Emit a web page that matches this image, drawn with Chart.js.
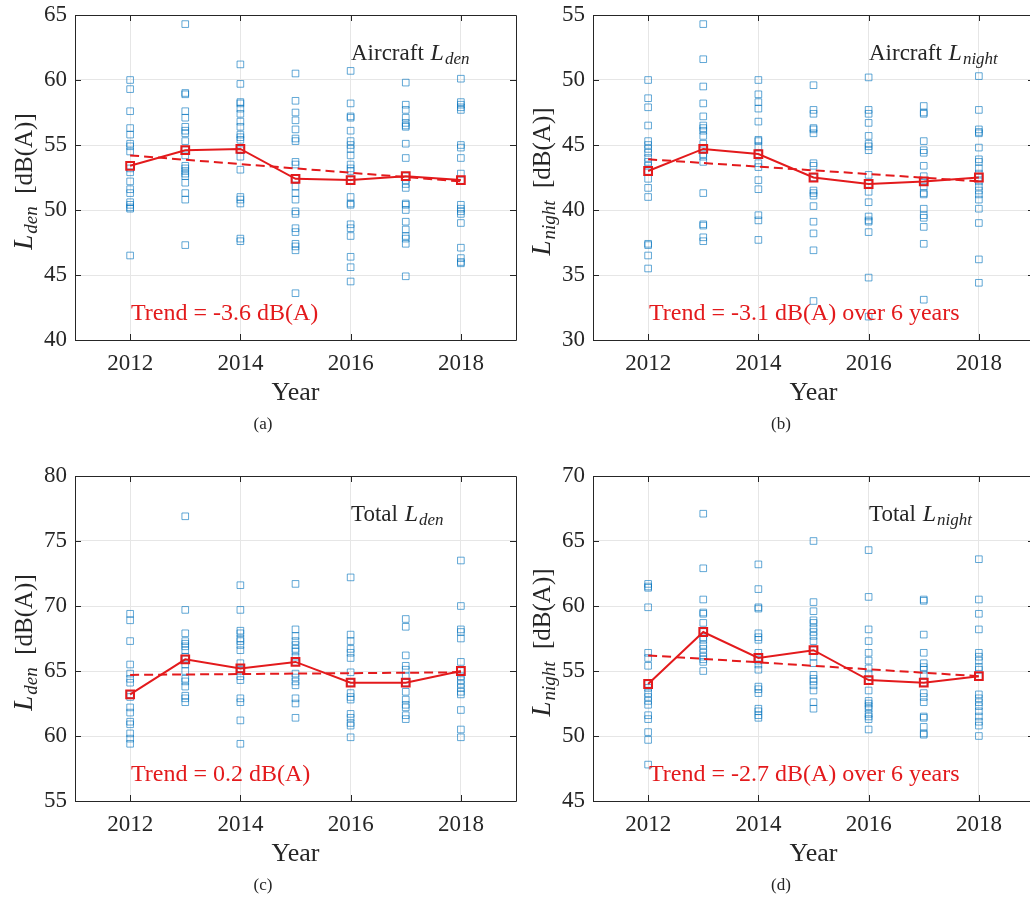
<!DOCTYPE html>
<html>
<head>
<meta charset="utf-8">
<title>Noise level trends 2012-2018</title>
<script src="https://cdn.jsdelivr.net/npm/chart.js@4.4.0/dist/chart.umd.min.js"></script>
<style>
  html, body { margin: 0; padding: 0; background: #fff; overflow: hidden; }
  #figure { position: relative; width: 1030px; height: 898px; }
  #figure canvas { position: absolute; }
</style>
</head>
<body>
<div id="figure">
  <canvas id="panel-a" width="530" height="455" style="left:0;top:0"></canvas>
  <canvas id="panel-b" width="530" height="455" style="left:518px;top:0"></canvas>
  <canvas id="panel-c" width="530" height="455" style="left:0;top:461px"></canvas>
  <canvas id="panel-d" width="530" height="455" style="left:518px;top:461px"></canvas>
</div>
<script>
// Survey years and x-axis ticks
const years = [2012, 2013, 2014, 2015, 2016, 2017, 2018];
const yearTicks = [2012, 2014, 2016, 2018];

// Aircraft Lden: per-site values for each year, yearly mean, linear trend endpoints
const aircraftDenSamples = [
    [60.0, 59.3, 57.6, 56.3, 55.8, 55.1, 54.9, 54.5, 53.2, 52.9, 52.2, 51.6, 51.3, 50.6, 50.4, 50.2, 50.1, 46.5],
    [64.3, 59.0, 58.9, 57.6, 57.1, 56.4, 56.1, 55.9, 55.3, 54.6, 54.2, 53.4, 53.2, 53.0, 52.8, 52.6, 52.1, 51.3, 50.8, 47.3],
    [61.2, 59.7, 58.3, 58.2, 57.8, 57.4, 56.8, 56.4, 55.8, 55.6, 55.4, 54.6, 54.1, 53.1, 51.0, 50.8, 50.5, 47.8, 47.6],
    [60.5, 58.4, 57.5, 56.9, 56.2, 55.5, 55.3, 53.7, 53.5, 52.4, 51.8, 51.3, 50.8, 49.9, 49.7, 48.6, 48.3, 47.4, 47.2, 46.9, 43.6],
    [60.7, 58.2, 57.2, 57.1, 56.1, 55.3, 55.0, 54.7, 54.2, 53.5, 53.2, 53.0, 52.3, 51.0, 50.5, 50.4, 48.9, 48.6, 48.0, 46.4, 45.6, 44.5],
    [59.8, 58.1, 57.7, 57.1, 56.7, 56.5, 56.4, 55.1, 54.0, 52.6, 52.3, 52.0, 51.7, 50.5, 50.4, 50.0, 49.1, 48.5, 48.0, 47.8, 47.4, 44.9],
    [60.1, 58.3, 58.1, 57.9, 57.7, 55.0, 54.8, 54.0, 52.8, 52.3, 50.4, 50.1, 49.9, 49.7, 49.0, 47.1, 46.3, 46.0, 45.9]
];
const aircraftDenMeans = [53.4, 54.6, 54.7, 52.4, 52.3, 52.6, 52.3];
const aircraftDenTrend = [54.2, 52.2];

// Aircraft Lnight
const aircraftNightSamples = [
    [50.0, 48.6, 47.9, 46.5, 45.3, 45.0, 44.7, 44.4, 44.0, 43.7, 43.4, 43.0, 42.4, 41.7, 41.0, 37.4, 37.3, 36.5, 35.5],
    [54.3, 51.6, 49.5, 48.2, 47.2, 46.5, 46.3, 46.1, 45.7, 45.1, 44.7, 44.3, 44.1, 43.7, 41.3, 38.9, 38.8, 37.9, 37.6],
    [50.0, 48.9, 48.3, 47.8, 46.8, 45.4, 45.3, 44.9, 44.3, 43.6, 43.3, 42.3, 41.6, 39.6, 39.2, 37.7],
    [49.6, 47.7, 47.4, 46.3, 46.2, 45.9, 43.6, 43.4, 42.5, 41.5, 41.3, 41.1, 40.3, 39.1, 38.2, 36.9, 33.0],
    [50.2, 47.7, 47.4, 46.7, 45.7, 45.1, 44.9, 44.6, 42.7, 42.0, 41.4, 40.6, 39.5, 39.2, 39.1, 38.3, 34.8, 31.8],
    [48.0, 47.5, 47.4, 45.3, 44.6, 44.4, 43.4, 42.6, 42.2, 41.8, 41.3, 41.2, 40.1, 39.6, 39.4, 38.7, 37.4, 33.1],
    [50.3, 47.7, 46.2, 46.0, 45.9, 44.8, 43.9, 43.7, 43.2, 42.8, 42.5, 42.2, 41.8, 41.5, 41.2, 40.8, 40.1, 39.0, 36.2, 34.4]
];
const aircraftNightMeans = [43.0, 44.7, 44.3, 42.5, 42.0, 42.2, 42.5];
const aircraftNightTrend = [43.9, 42.2];

// Total Lden
const totalDenSamples = [
    [69.4, 68.9, 67.3, 65.5, 64.8, 64.4, 64.1, 63.2, 63.0, 62.2, 61.8, 61.1, 60.9, 60.2, 59.8, 59.4],
    [76.9, 69.7, 67.9, 67.3, 67.1, 66.9, 66.6, 66.1, 65.9, 65.5, 65.0, 64.4, 64.2, 63.8, 63.1, 62.9, 62.6],
    [71.6, 69.7, 68.1, 67.9, 67.5, 67.3, 67.0, 66.6, 65.6, 65.2, 65.0, 64.6, 64.3, 62.9, 62.6, 61.2, 59.4],
    [71.7, 68.2, 67.7, 67.3, 67.0, 66.7, 66.5, 66.1, 65.7, 64.8, 64.5, 64.2, 63.9, 62.9, 62.5, 61.4],
    [72.2, 67.8, 67.3, 66.7, 66.4, 66.0, 64.9, 64.1, 63.3, 63.0, 62.8, 61.7, 61.4, 61.0, 60.8, 59.9],
    [69.0, 68.4, 66.2, 65.4, 65.1, 64.6, 64.1, 63.4, 62.8, 62.4, 62.2, 61.6, 61.3],
    [73.5, 70.0, 68.2, 68.0, 67.5, 65.7, 65.0, 64.6, 64.3, 64.0, 63.7, 63.4, 63.2, 62.0, 60.5, 59.9]
];
const totalDenMeans = [63.2, 65.9, 65.2, 65.7, 64.1, 64.1, 65.0];
const totalDenTrend = [64.7, 64.9];

// Total Lnight
const totalNightSamples = [
    [61.7, 61.5, 61.4, 59.9, 56.4, 56.0, 55.4, 54.0, 53.7, 53.3, 53.0, 52.7, 52.4, 51.6, 51.3, 50.3, 49.7, 47.8],
    [67.1, 62.9, 60.5, 59.5, 59.4, 58.7, 58.0, 57.6, 57.4, 57.0, 56.7, 56.4, 56.1, 55.9, 55.7, 55.0],
    [63.2, 61.3, 59.9, 59.8, 57.9, 57.6, 57.4, 56.4, 56.0, 55.8, 55.5, 55.1, 53.8, 53.6, 53.3, 52.1, 51.9, 51.6, 51.4],
    [65.0, 60.3, 59.6, 58.9, 58.7, 58.3, 58.0, 57.7, 57.3, 56.6, 56.1, 55.6, 54.7, 54.4, 54.2, 53.9, 53.5, 52.6, 52.1],
    [64.3, 60.7, 58.2, 57.3, 56.4, 55.8, 55.2, 54.8, 54.3, 53.5, 52.7, 52.5, 52.3, 52.1, 51.7, 51.5, 51.3, 50.5],
    [60.5, 60.4, 57.8, 56.4, 55.6, 55.3, 55.1, 54.7, 54.1, 53.3, 53.0, 52.6, 51.5, 51.4, 50.7, 50.2, 50.1],
    [63.6, 60.5, 59.4, 58.2, 56.4, 56.1, 55.8, 55.3, 55.1, 54.6, 53.2, 52.9, 52.6, 52.3, 51.9, 51.5, 51.1, 50.8, 50.0]
];
const totalNightMeans = [54.0, 58.0, 56.0, 56.6, 54.3, 54.1, 54.6];
const totalNightTrend = [56.2, 54.6];

// Y ranges (min, max) of the four panels
const rangeA = [40, 65];
const rangeB = [30, 55];
const rangeC = [55, 80];
const rangeD = [45, 70];

// Annotation texts
const trendLabels = ['Trend = -3.6 dB(A)', 'Trend = -3.1 dB(A) over 6 years',
                     'Trend = 0.2 dB(A)', 'Trend = -2.7 dB(A) over 6 years'];
const panelTitles = ['Aircraft', 'Aircraft', 'Total', 'Total'];
const metricSubs = ['den', 'night', 'den', 'night'];
const captions = ['(a)', '(b)', '(c)', '(d)'];

// Geometry shared by every panel canvas
const CANVAS_W = 530, CANVAS_H = 455;
const PLOT_LEFT = 75, PLOT_TOP = 15, PLOT_RIGHT = 516, PLOT_BOTTOM = 340;

const SERIF = '"Liberation Serif", "Times New Roman", serif';
const INK = '#262626';
const RED = '#e31a1c';
const BLUE = 'rgba(0, 114, 189, 0.62)';

// Draw a sequence of text pieces (normal / italic / subscript) starting at x
function drawRuns(ctx, runs, x, y, align) {
    let total = 0;
    runs.forEach(r => { ctx.font = r.font; r.w = ctx.measureText(r.text).width + (r.gap || 0); total += r.w; });
    let cx = align === 'center' ? x - total / 2 : x;
    ctx.textAlign = 'left';
    ctx.textBaseline = 'alphabetic';
    runs.forEach(r => {
        ctx.font = r.font;
        ctx.fillText(r.text, cx, y + (r.dy || 0));
        cx += r.w;
    });
}

// Axis box with inward ticks, axis titles and text annotations
const panelDecor = {
    id: 'panelDecor',
    afterDraw(chart, args, opts) {
        const ctx = chart.ctx;
        const a = chart.chartArea;
        const xs = chart.scales.x, ys = chart.scales.y;
        ctx.save();

        ctx.strokeStyle = INK;
        ctx.lineWidth = 1;
        ctx.beginPath();
        ctx.rect(Math.round(a.left) + 0.5, Math.round(a.top) + 0.5, Math.round(a.width), Math.round(a.height));
        yearTicks.forEach(v => {
            const px = Math.round(xs.getPixelForValue(v)) + 0.5;
            ctx.moveTo(px, a.bottom); ctx.lineTo(px, a.bottom - 6);
            ctx.moveTo(px, a.top); ctx.lineTo(px, a.top + 6);
        });
        ys.ticks.forEach(t => {
            const py = Math.round(ys.getPixelForValue(t.value)) + 0.5;
            ctx.moveTo(a.left, py); ctx.lineTo(a.left + 6, py);
            ctx.moveTo(a.right, py); ctx.lineTo(a.right - 6, py);
        });
        ctx.stroke();

        ctx.fillStyle = INK;
        // x-axis title
        ctx.font = '26px ' + SERIF;
        ctx.textAlign = 'center';
        ctx.textBaseline = 'alphabetic';
        ctx.fillText('Year', (a.left + a.right) / 2, 400);

        // y-axis title, rotated
        ctx.save();
        ctx.translate(32, (a.top + a.bottom) / 2 + 4);
        ctx.rotate(-Math.PI / 2);
        drawRuns(ctx, [
            { text: 'L', font: 'italic 27px ' + SERIF, gap: 1 },
            { text: opts.sub, font: 'italic 19px ' + SERIF, dy: 5 },
            { text: '  [dB(A)]', font: '25px ' + SERIF }
        ], 0, 0, 'center');
        ctx.restore();

        // panel title
        drawRuns(ctx, [
            { text: opts.title + ' ', font: '23px ' + SERIF, gap: 1 },
            { text: 'L', font: 'italic 24px ' + SERIF, gap: 1 },
            { text: opts.sub, font: 'italic 17px ' + SERIF, dy: 4 }
        ], 351, 60, 'left');

        // trend annotation
        ctx.fillStyle = RED;
        ctx.font = '24px ' + SERIF;
        ctx.textAlign = 'left';
        ctx.fillText(opts.trend, 131, 320);

        // caption
        ctx.fillStyle = INK;
        ctx.font = '17px ' + SERIF;
        ctx.textAlign = 'center';
        ctx.textBaseline = 'middle';
        ctx.fillText(opts.caption, 263, 425);

        ctx.restore();
    }
};

function buildPanel(canvasId, samples, means, trend, range, idx) {
    const points = [];
    samples.forEach((vals, i) => vals.forEach(v => points.push({ x: years[i], y: v })));
    const meanPoints = means.map((v, i) => ({ x: years[i], y: v }));
    const trendPoints = [{ x: years[0], y: trend[0] }, { x: years[years.length - 1], y: trend[1] }];

    return new Chart(document.getElementById(canvasId), {
        type: 'scatter',
        data: {
            datasets: [
                {
                    data: meanPoints,
                    showLine: true,
                    borderColor: RED,
                    borderWidth: 2,
                    pointStyle: 'rect',
                    pointRadius: 5.5,
                    pointBorderWidth: 2,
                    pointBorderColor: RED,
                    pointBackgroundColor: 'rgba(0,0,0,0)',
                    order: 1
                },
                {
                    data: trendPoints,
                    showLine: true,
                    borderColor: RED,
                    borderWidth: 2,
                    borderDash: [9, 5],
                    pointRadius: 0,
                    order: 2
                },
                {
                    data: points,
                    pointStyle: 'rect',
                    pointRadius: 4.7,
                    pointBorderWidth: 1,
                    pointBorderColor: BLUE,
                    pointBackgroundColor: 'rgba(0,0,0,0)',
                    order: 3
                }
            ]
        },
        options: {
            responsive: false,
            animation: false,
            devicePixelRatio: 1,
            layout: { padding: { left: 0, top: PLOT_TOP, right: CANVAS_W - PLOT_RIGHT, bottom: 0 } },
            plugins: {
                legend: { display: false },
                tooltip: { enabled: false },
                panelDecor: {
                    title: panelTitles[idx],
                    sub: metricSubs[idx],
                    trend: trendLabels[idx],
                    caption: captions[idx]
                }
            },
            scales: {
                x: {
                    type: 'linear',
                    min: 2011,
                    max: 2019,
                    afterBuildTicks: s => { s.ticks = yearTicks.map(v => ({ value: v })); },
                    afterFit: s => {
                        s.height = CANVAS_H - PLOT_BOTTOM;
                        s.paddingLeft = 0;
                        s.paddingRight = 0;
                    },
                    grid: { color: '#e6e6e6', lineWidth: 1, drawTicks: false },
                    border: { display: false },
                    ticks: {
                        callback: v => String(v),
                        font: { family: SERIF, size: 23 },
                        color: INK,
                        padding: 10,
                        maxRotation: 0
                    }
                },
                y: {
                    min: range[0],
                    max: range[1],
                    afterFit: s => {
                        s.width = PLOT_LEFT;
                        s.paddingTop = 0;
                        s.paddingBottom = 0;
                    },
                    grid: { color: '#e6e6e6', lineWidth: 1, drawTicks: false },
                    border: { display: false },
                    ticks: {
                        stepSize: 5,
                        font: { family: SERIF, size: 23 },
                        color: INK,
                        padding: 8
                    }
                }
            }
        },
        plugins: [panelDecor]
    });
}

buildPanel('panel-a', aircraftDenSamples, aircraftDenMeans, aircraftDenTrend, rangeA, 0);
buildPanel('panel-b', aircraftNightSamples, aircraftNightMeans, aircraftNightTrend, rangeB, 1);
buildPanel('panel-c', totalDenSamples, totalDenMeans, totalDenTrend, rangeC, 2);
buildPanel('panel-d', totalNightSamples, totalNightMeans, totalNightTrend, rangeD, 3);
</script>
</body>
</html>
